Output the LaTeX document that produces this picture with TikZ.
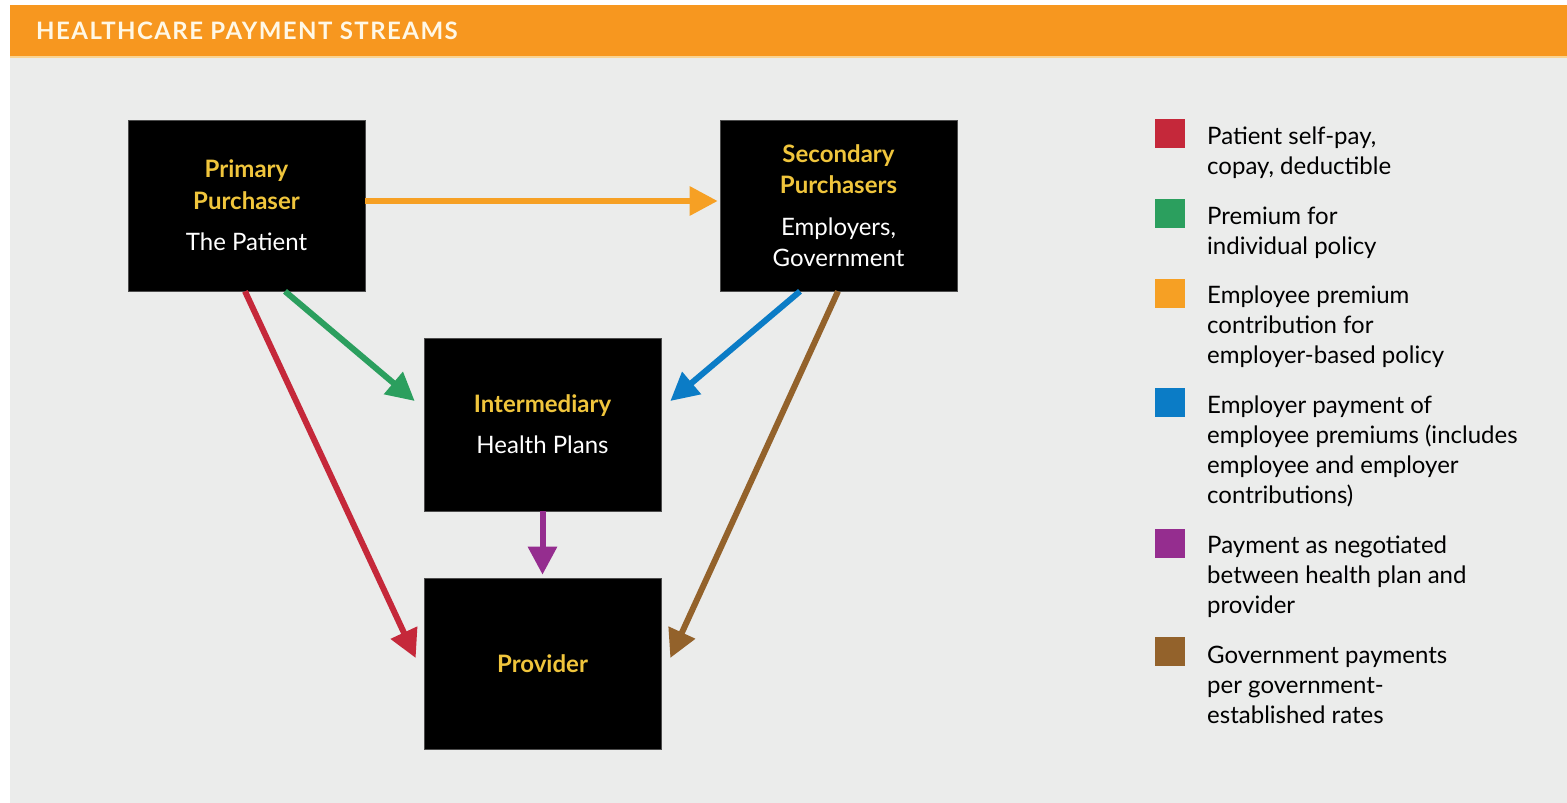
\documentclass[tikz,border=0pt]{standalone}
\usepackage{fontspec}
\setmainfont{Lato}
\newfontfamily\headfont[LetterSpace=6]{Lato}
\usetikzlibrary{arrows.meta,calc}
\definecolor{hdrorange}{HTML}{F7971F}
\definecolor{hdrline}{HTML}{F9D493}
\definecolor{bggray}{HTML}{EBECEB}
\definecolor{cRed}{HTML}{C5283A}
\definecolor{cGreen}{HTML}{2B9F5E}
\definecolor{cOrange}{HTML}{F6A024}
\definecolor{cBlue}{HTML}{0B7CC6}
\definecolor{cPurple}{HTML}{952D8F}
\definecolor{cBrown}{HTML}{93622B}
\definecolor{tYellow}{HTML}{F0C53C}
\definecolor{hdrtext}{HTML}{FFF8E6}
\newcommand{\ttl}[1]{{\bfseries\color{tYellow}#1}}
\begin{document}
\begin{tikzpicture}[x=1pt,y=-1pt,
  box/.style={fill=black,draw=black!70,line width=0.6pt,inner sep=0pt,
    minimum width=237pt,minimum height=171pt,align=center,text=white,
    font=\fontsize{24}{32}\selectfont},
  arr/.style={line width=6pt,-{Triangle[length=28pt,width=28pt]}},
  swatch/.style={inner sep=0pt,minimum width=30pt,minimum height=29pt,anchor=north west},
  legtext/.style={inner sep=0pt,anchor=north west,align=left,text=black,
    font=\fontsize{24}{30}\selectfont}]
\useasboundingbox (0,0) rectangle (1567,803);
% background
\fill[white] (0,0) rectangle (1567,803);
\fill[bggray] (10,57) rectangle (1567,803);
\fill[hdrorange] (10,5) rectangle (1567,56);
\fill[hdrline] (10,56) rectangle (1567,58);
\node[anchor=base west,inner sep=0pt,text=hdrtext,
  font=\headfont\bfseries\fontsize{24}{28}\selectfont] (title) at (36,39) {HEALTHCARE PAYMENT STREAMS};
% boxes
\node[box] (prim) at (246.5,205.5) {\ttl{Primary}\\\ttl{Purchaser}\\[9pt]The Patient};
\node[box,font=\fontsize{24}{31}\selectfont] (sec) at (838.5,205.5) {\ttl{Secondary}\\\ttl{Purchasers}\\[11pt]Employers,\\Government};
\node[box,minimum height=173pt] (inter) at (542.5,424.5) {\ttl{Intermediary}\\[9pt]Health Plans};
\node[box] (prov) at (542.5,663.5) {\ttl{Provider}};
% arrows
\draw[arr,cOrange] ($(prim.east)+(0,-4.5)$) -- ($(sec.west)+(-2,-4.5)$);
\draw[arr,cGreen] ($(prim.south)+(38.5,0)$) -- ($(inter.west)+(-9,-23.5)$);
\draw[arr,cBlue] ($(sec.south)+(-38.5,0)$) -- ($(inter.east)+(9,-23.5)$);
\draw[arr,cRed] ($(prim.south)+(-1.5,0)$) -- ($(prov.west)+(-8,-5.5)$);
\draw[arr,cBrown] ($(sec.south)+(-0.5,0)$) -- ($(prov.east)+(9,-5.5)$);
\draw[arr,cPurple] (inter.south) -- ($(prov.north)+(0,-3)$);
% legend
\node[swatch,fill=cRed] (s1) at (1155,119) {};
\node[swatch,fill=cGreen] (s2) at (1155,199) {};
\node[swatch,fill=cOrange] (s3) at (1155,279) {};
\node[swatch,fill=cBlue] (s4) at (1155,388) {};
\node[swatch,fill=cPurple] (s5) at (1155,529) {};
\node[swatch,fill=cBrown] (s6) at (1155,637) {};
\node[legtext] (l1) at (1207,127) {Patient self-pay,\\copay, deductible};
\node[legtext] (l2) at (1207,207) {Premium for\\individual policy};
\node[legtext] (l3) at (1207,286) {Employee premium\\contribution for\\employer-based policy};
\node[legtext] (l4) at (1207,396) {Employer payment of\\employee premiums (includes\\employee and employer\\contributions)};
\node[legtext] (l5) at (1207,536) {Payment as negotiated\\between health plan and\\provider};
\node[legtext] (l6) at (1207,646) {Government payments\\per government-\\established rates};
\end{tikzpicture}
\end{document}
